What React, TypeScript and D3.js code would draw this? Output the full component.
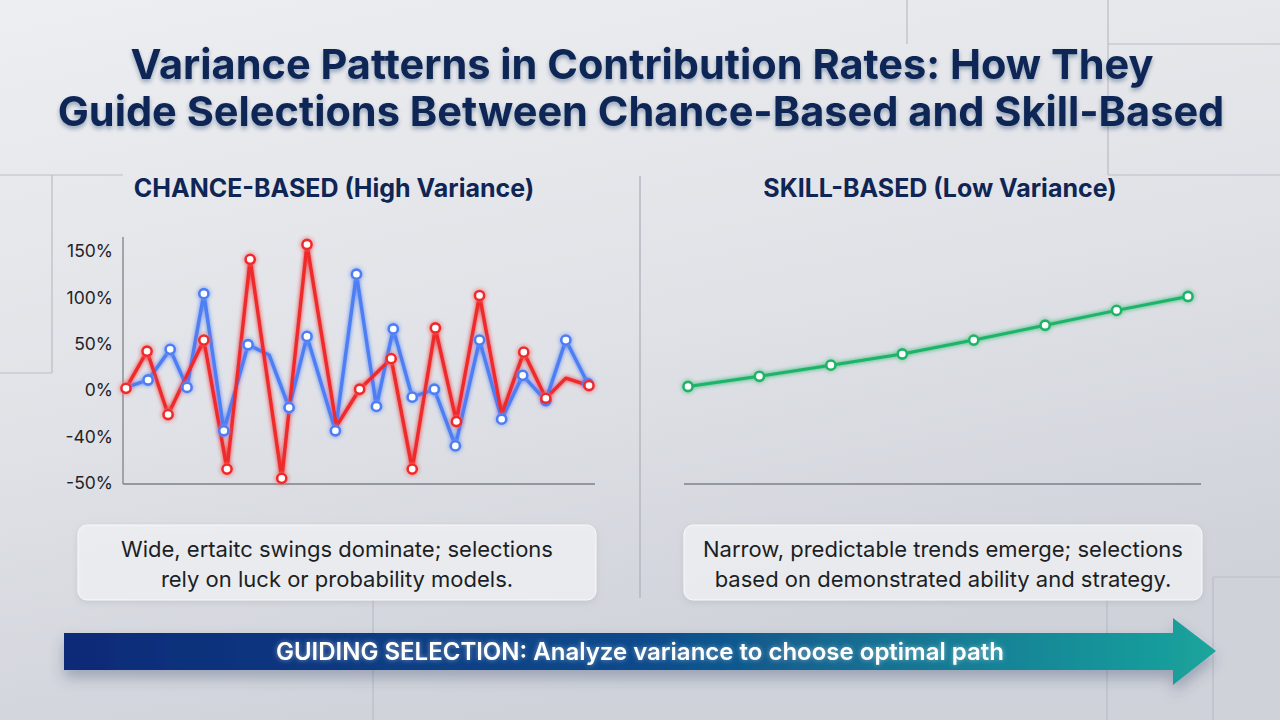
import React, { useEffect, useRef } from "react";
import * as d3 from "d3";

// y ticks are evenly spaced on screen even though the steps differ
const yTicks = [-50, -40, 0, 50, 100, 150];

// chance-based series: sample round and contribution rate (%)
const redRounds = [0, 1, 2, 3.7, 4.8, 5.9, 7.4, 8.6, 10, 11.1, 12.6, 13.6, 14.7, 15.7, 16.8, 17.85, 18.9, 19.95, 20.9, 22];
const redValues = [2, 42, -21, 54, -47, 141, -49, 157, -31, 1, 34, -47, 67, -27, 102, -21, 41, -7, 13, 5];
const redNoMarker = [8, 15, 18];

const blueRounds = [0, 1.05, 2.1, 2.9, 3.7, 4.65, 5.8, 6.8, 7.75, 8.6, 9.95, 10.95, 11.9, 12.7, 13.6, 14.65, 15.65, 16.8, 17.85, 18.85, 19.95, 20.9, 21.95];
const blueValues = [3, 11, 44, 3, 104, -35, 49, 38, -15, 58, -35, 125, -14, 66, -6, 1, -42, 54, -25, 16, -9, 54, 7];
const blueNoMarker = [0, 7];

// skill-based series: steady growth
const skillValues = [4, 15, 27, 39, 54, 70, 86, 101];

const title = [
  "Variance Patterns in Contribution Rates: How They",
  "Guide Selections Between Chance-Based and Skill-Based",
];
const leftNote = ["Wide, ertaitc swings dominate; selections", "rely on luck or probability models."];
const rightNote = ["Narrow, predictable trends emerge; selections", "based on demonstrated ability and strategy."];

const NAVY = "#0f2554";
const RED = "#ef2a2c";
const BLUE = "#4d7ef3";
const GREEN = "#1db467";
const FONT = "Inter, 'Noto Sans', sans-serif";

type Pt = { t: number; v: number; mark: boolean };

const zipSeries = (ts: number[], vs: number[], hidden: number[]): Pt[] =>
  ts.map((t, i) => ({ t, v: vs[i], mark: !hidden.includes(i) }));

export default function App() {
  const axisRef = useRef<SVGGElement>(null);

  const W = 1280, H = 720;
  const plotBottom = 483, tickStep = 46.4;

  // piecewise scale so each labelled tick sits one step above the last
  const y = d3.scaleLinear()
    .domain(yTicks)
    .range(yTicks.map((_, i) => plotBottom - i * tickStep));

  const xLeft = d3.scaleLinear().domain([0, 22]).range([126, 589]);
  const xRight = d3.scalePoint<number>()
    .domain(d3.range(skillValues.length))
    .range([688, 1188]);

  const red = zipSeries(redRounds, redValues, redNoMarker);
  const blue = zipSeries(blueRounds, blueValues, blueNoMarker);

  const lineLeft = d3.line<Pt>().x(d => xLeft(d.t)).y(d => y(d.v));
  const lineRight = d3.line<number>().x((_, i) => xRight(i) as number).y(d => y(d));

  useEffect(() => {
    const g = d3.select(axisRef.current);
    g.selectAll("*").remove();
    g.call(d3.axisLeft(y).tickValues(yTicks).tickSize(0).tickPadding(10).tickFormat(d => `${d}%`));
    g.select(".domain").remove();
    g.selectAll("text")
      .attr("font-family", FONT)
      .attr("font-size", 17.5)
      .attr("fill", "#1f2329");
  }, []);

  const markers = (data: Pt[], color: string) =>
    data.filter(d => d.mark).map((d, i) => (
      <circle key={i} cx={xLeft(d.t)} cy={y(d.v)} r={4.6} fill="#fff" stroke={color} strokeWidth={2.6} />
    ));

  return (
    <div style={{ position: "fixed", left: 0, top: 0 }}>
      <svg width={W} height={H} viewBox={`0 0 ${W} ${H}`} style={{ display: "block" }}>
        <defs>
          <linearGradient id="bg" x1="0" y1="0" x2="0.35" y2="1">
            <stop offset="0" stopColor="#eceef1" />
            <stop offset="0.55" stopColor="#e0e2e7" />
            <stop offset="1" stopColor="#cfd2d9" />
          </linearGradient>
          <linearGradient id="arrow" x1="0" y1="0" x2="1" y2="0">
            <stop offset="0" stopColor="#0a2a78" />
            <stop offset="0.5" stopColor="#0f4a8b" />
            <stop offset="1" stopColor="#1aa59d" />
          </linearGradient>
          <filter id="titleShadow" x="-5%" y="-30%" width="110%" height="160%">
            <feDropShadow dx="0" dy="3" stdDeviation="2.2" floodColor="#0f2554" floodOpacity="0.35" />
          </filter>
          <filter id="glow" x="-10%" y="-10%" width="120%" height="120%">
            <feGaussianBlur in="SourceGraphic" stdDeviation="2.2" result="b" />
            <feMerge>
              <feMergeNode in="b" />
              <feMergeNode in="SourceGraphic" />
            </feMerge>
          </filter>
          <filter id="textGlow" x="-5%" y="-40%" width="110%" height="180%">
            <feGaussianBlur in="SourceAlpha" stdDeviation="2.5" result="a" />
            <feFlood floodColor="#ffffff" floodOpacity="0.45" />
            <feComposite in2="a" operator="in" result="g" />
            <feMerge>
              <feMergeNode in="g" />
              <feMergeNode in="SourceGraphic" />
            </feMerge>
          </filter>
          <filter id="boxShadow" x="-5%" y="-20%" width="110%" height="150%">
            <feDropShadow dx="0" dy="2" stdDeviation="3" floodColor="#8a8f9c" floodOpacity="0.3" />
          </filter>
          <filter id="arrowShadow" x="-5%" y="-40%" width="110%" height="200%">
            <feDropShadow dx="0" dy="8" stdDeviation="7" floodColor="#3a4a70" floodOpacity="0.35" />
          </filter>
        </defs>

        <rect width={W} height={H} fill="url(#bg)" />

        {/* thin frame lines in the background */}
        <g stroke="#b9bdc6" strokeWidth={1.2} fill="none">
          <path d="M907,0 V44 M1108,0 V175 M1108,44 H1280 M1108,175 H1280" />
          <path d="M0,175 H123 M52,175 V373 M0,373 H52" />
          <path d="M373,600 V720 M1107,600 V720 M1213,577 V720 M1213,577 H1280" />
          <path d="M640,176 V598" stroke="#b3b7c0" strokeWidth={1.5} />
        </g>

        {/* title */}
        <g fontFamily={FONT} fontWeight={700} fill={NAVY} textAnchor="middle" filter="url(#titleShadow)">
          <text x={642} y={79} fontSize={41.5}>{title[0]}</text>
          <text x={641} y={126} fontSize={41.5}>{title[1]}</text>
        </g>

        {/* panel headings */}
        <g fontFamily={FONT} fontWeight={700} fill={NAVY} textAnchor="middle" fontSize={25}>
          <text x={334} y={197}>CHANCE-BASED (High Variance)</text>
          <text x={940} y={197}>SKILL-BASED (Low Variance)</text>
        </g>

        {/* axes */}
        <g stroke="#7d8189" strokeWidth={1.3}>
          <line x1={123} x2={123} y1={237} y2={484} />
          <line x1={123} x2={595} y1={484} y2={484} />
          <line x1={684} x2={1201} y1={484} y2={484} />
        </g>
        <g ref={axisRef} transform="translate(123,0)" />

        {/* left chart */}
        <g fill="none" strokeLinejoin="round" strokeLinecap="round" filter="url(#glow)">
          <path d={lineLeft(blue) ?? ""} stroke={BLUE} strokeWidth={3.4} />
          <path d={lineLeft(red) ?? ""} stroke={RED} strokeWidth={3.4} />
        </g>
        <g filter="url(#glow)">
          {markers(blue, BLUE)}
          {markers(red, RED)}
        </g>

        {/* right chart */}
        <g filter="url(#glow)">
          <path d={lineRight(skillValues) ?? ""} fill="none" stroke={GREEN} strokeWidth={3} />
          {skillValues.map((v, i) => (
            <circle key={i} cx={xRight(i)} cy={y(v)} r={4.6} fill="#fff" stroke={GREEN} strokeWidth={2.6} />
          ))}
        </g>

        {/* notes */}
        {[{ x: 78, lines: leftNote }, { x: 684, lines: rightNote }].map((b, k) => (
          <g key={k}>
            <rect x={b.x} y={525} width={518} height={75} rx={9}
              fill="#f1f2f5" fillOpacity={0.8} stroke="#f7f8fa" strokeWidth={1} filter="url(#boxShadow)" />
            <g fontFamily={FONT} fontSize={22} fill="#1c1f24" textAnchor="middle">
              <text x={b.x + 259} y={557}>{b.lines[0]}</text>
              <text x={b.x + 259} y={587}>{b.lines[1]}</text>
            </g>
          </g>
        ))}

        {/* guiding arrow */}
        <path d="M64,633 H1173 V618 L1216,651 L1173,685 V670 H64 Z" fill="url(#arrow)" filter="url(#arrowShadow)" />
        <text x={640} y={660} textAnchor="middle" fontFamily={FONT} fontWeight={600} fontSize={24}
          fill="#ffffff" filter="url(#textGlow)">
          GUIDING SELECTION: Analyze variance to choose optimal path
        </text>
      </svg>
    </div>
  );
}
